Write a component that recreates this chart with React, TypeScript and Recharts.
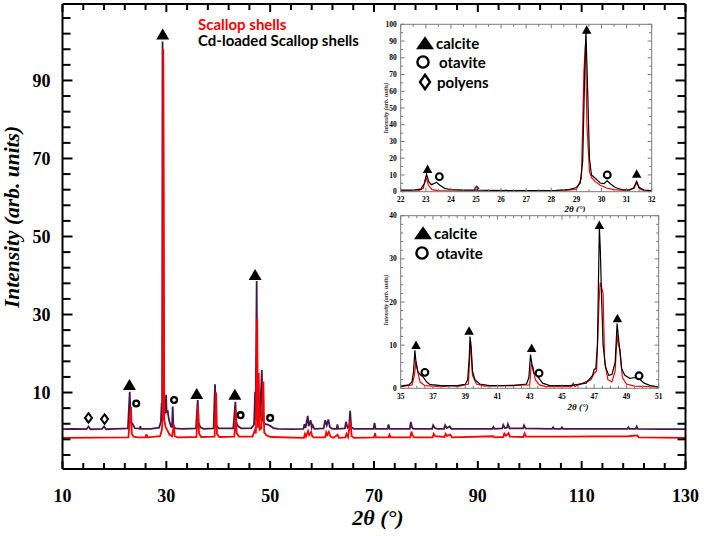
import { ComposedChart, LineChart, Line, Scatter, XAxis, YAxis, Label } from 'recharts';

// ---------------------------------------------------------------------------
// Data (2θ in degrees, intensity in arb. units)
// ---------------------------------------------------------------------------

const CD_LOADED: number[][] = [
  [10, 0.6], [12, 0.7], [14.6, 0.6], [15.0, 1.3], [15.4, 0.6], [17.6, 0.7], [18.0, 1.3], [18.4, 0.6],
  [20, 0.7], [22.6, 0.8], [22.95, 10.2], [23.15, 2.4], [23.5, 2.0], [23.9, 0.9], [24.9, 0.7], [25.0, 1.4],
  [25.1, 0.7], [27, 0.7], [28.6, 1.0], [28.95, 2.5], [29.1, 7.4], [29.18, 2.8], [29.27, 100], [29.4, 9],
  [29.6, 5.5], [29.85, 5], [29.95, 9.4], [30.05, 5], [30.27, 5.2], [30.5, 3], [30.9, 1.3], [31.1, 1.2],
  [31.23, 6.4], [31.35, 1.3], [31.8, 0.8], [33, 0.7], [35.7, 0.8], [36.05, 8.1], [36.2, 2.2], [36.6, 1.0],
  [37.2, 0.7], [39.1, 0.8], [39.38, 12.1], [39.55, 1.8], [40.1, 0.8], [42.9, 0.8], [43.3, 7.6], [43.45, 2.4],
  [43.8, 1.4], [44.4, 0.8], [46.4, 0.9], [46.9, 1.8], [47.1, 10.2], [47.2, 3], [47.4, 38.6], [47.55, 4],
  [47.75, 3], [47.85, 5.6], [48.0, 2.8], [48.4, 15.8], [48.55, 3], [48.9, 2], [49.5, 1.8], [50.0, 1.5],
  [50.6, 0.9], [51.5, 0.7], [54, 0.6], [56.4, 0.7], [56.6, 1.9], [56.8, 0.9], [57.24, 4.0], [57.4, 1.4],
  [57.8, 2.9], [58.0, 1.0], [58.2, 1.6], [58.5, 0.7], [60.3, 0.8], [60.6, 2.9], [60.9, 1.6], [61.2, 3.1],
  [61.5, 1.1], [62.0, 0.7], [62.8, 0.7], [62.95, 1.8], [63.1, 0.7], [64.4, 0.8], [64.6, 2.5], [64.9, 1.0],
  [65.2, 1.3], [65.4, 5.3], [65.6, 1.2], [66.1, 0.7], [69.9, 0.7], [70.1, 2.2], [70.3, 0.7], [72.6, 0.7],
  [72.8, 1.8], [73.0, 0.7], [76.9, 0.7], [77.1, 2.5], [77.3, 1.1], [77.6, 0.7], [81.2, 0.7], [81.4, 1.6],
  [81.7, 0.9], [82.2, 0.7], [83.5, 0.7], [83.7, 1.6], [84.0, 0.9], [84.6, 1.3], [84.9, 0.7], [92.8, 0.7],
  [93.0, 1.2], [93.2, 0.7], [94.7, 0.8], [94.9, 1.7], [95.2, 0.9], [95.6, 1.0], [95.8, 1.9], [96.1, 0.8],
  [98.7, 0.8], [98.9, 1.6], [99.2, 0.8], [104.3, 0.7], [104.5, 1.1], [104.7, 0.7], [106.0, 0.7], [106.2, 1.1],
  [106.4, 0.7], [118.8, 0.7], [119.0, 1.1], [119.2, 0.7], [120.4, 0.7], [120.6, 1.3], [120.8, 0.7], [125, 0.6],
  [130, 0.6],
];

const SCALLOP: number[][] = [
  [10, -1.6], [22.7, -1.5], [23.2, 6.4], [23.35, -0.6], [23.7, -1.3], [24.5, -1.5], [26.05, -1.5], [26.1, -0.9],
  [26.3, -1.0], [26.4, -1.5], [28.8, -1.2], [29.15, 0.5], [29.3, 4], [29.42, 98], [29.52, 60], [29.6, 3],
  [29.85, 1.2], [30.2, 0.3], [30.6, -0.8], [31.1, -1.2], [31.48, 1.7], [31.6, -1.2], [32.2, -1.5], [35.8, -1.4],
  [36.1, 6.4], [36.3, -0.5], [36.7, -1.4], [39.3, -1.3], [39.6, 10], [39.75, -0.6], [40.2, -1.4], [43.1, -1.3],
  [43.4, 5.5], [43.55, -0.4], [44, -1.3], [46.6, -1.3], [47.1, 0.5], [47.25, -0.5], [47.5, 29], [47.65, 1],
  [47.8, 15], [47.95, 0.5], [48.3, 0.8], [48.7, 12.8], [48.85, -0.2], [49.3, -1.0], [50.2, -1.4], [56.5, -1.6],
  [56.7, -0.6], [56.9, -1.3], [57.3, 0.1], [57.5, -0.9], [57.9, -0.1], [58.1, -1.2], [58.4, -1.5], [60.6, -1.5],
  [60.8, -0.2], [61.0, -0.9], [61.3, -0.1], [61.6, -1.3], [62.2, -1.6], [63.0, -0.8], [63.2, -1.6], [64.5, -1.5],
  [64.7, -0.6], [65.0, -1.4], [65.45, 2.9], [65.7, -1.2], [66.2, -1.6], [70.0, -1.5], [70.2, -0.4], [70.4, -1.5],
  [72.8, -1.5], [73.0, -0.8], [73.2, -1.5], [77.0, -1.5], [77.2, 0.0], [77.4, -0.9], [77.7, -1.5], [81.3, -1.5],
  [81.5, -0.6], [81.8, -1.2], [83.6, -1.4], [83.8, -0.6], [84.1, -1.1], [84.7, -0.8], [85, -1.5], [93.0, -1.2],
  [93.2, -1.5], [94.9, -1.4], [95.1, -0.5], [95.4, -1.1], [95.9, -0.4], [96.2, -1.3], [98.8, -1.4], [99.0, -0.5],
  [99.3, -1.3], [104.6, -1.3], [106.2, -1.3], [119.1, -1.2], [120.7, -1.0], [121, -1.5], [130, -1.6],
];

const MAIN_CALCITE: number[][] = [[22.9, 11.9], [29.3, 101.8], [35.85, 9.6], [43.2, 9.4], [47.1, 40.1]];
const MAIN_OTAVITE: number[][] = [[24.2, 7.2], [31.5, 8.1], [44.3, 4.2], [50.0, 3.5]];
const MAIN_POLYENS: number[][] = [[15.0, 3.5], [18.1, 3.2]];

const MAIN_X_LABELS = [10, 30, 50, 70, 90, 110, 130];
const MAIN_Y_LABELS = [10, 30, 50, 70, 90];

// inset 1: 22-32°
const INSET1_CD: number[][] = [
  [22, 1.0], [22.5, 1.0], [22.8, 1.5], [22.95, 5], [23.03, 10.5], [23.12, 6], [23.22, 4.2], [23.32, 4.8],
  [23.42, 5.6], [23.55, 4], [23.75, 2], [24.0, 1.3], [24.5, 1.0], [24.95, 1.0], [25.0, 1.8], [25.05, 1.0],
  [25.5, 0.8], [26.5, 0.6], [27.5, 0.6], [28.2, 0.8], [28.7, 1.3], [29.0, 2.5], [29.15, 5], [29.25, 18],
  [29.33, 70], [29.38, 96], [29.45, 60], [29.52, 20], [29.6, 10], [29.75, 8], [29.95, 5.2], [30.1, 4.8],
  [30.22, 6.5], [30.35, 4.8], [30.55, 2.5], [30.8, 1.3], [31.1, 1.0], [31.28, 2.2], [31.4, 6.2], [31.5, 2.5],
  [31.7, 1.0], [32, 0.7],
];
const INSET1_SCALLOP: number[][] = [
  [22, 0.4], [22.7, 0.5], [22.9, 2], [23.0, 9], [23.1, 4], [23.25, 1.2], [23.5, 0.6], [24.5, 0.4],
  [26.1, 0.4], [26.2, 1.0], [26.3, 0.4], [27, 0.3], [28.5, 0.6], [29.0, 1.5], [29.2, 8], [29.3, 72],
  [29.36, 88], [29.42, 40], [29.52, 12], [29.6, 8.5], [29.75, 6], [29.95, 3.8], [30.2, 2.2], [30.5, 1.2],
  [31.0, 0.6], [31.3, 2], [31.4, 5.5], [31.5, 2], [31.7, 0.5], [32, 0.3],
];
const INSET1_CALCITE: number[][] = [[23.07, 13.4], [29.41, 96.6], [31.4, 10.6]];
const INSET1_OTAVITE: number[][] = [[23.54, 9], [30.23, 10]];
const INSET1_POLYENS: number[][] = [[25.03, 2]];
const INSET1_X_LABELS = [22, 23, 24, 25, 26, 27, 28, 29, 30, 31, 32];
const INSET1_Y_LABELS = [0, 10, 20, 30, 40, 50, 60, 70, 80, 90, 100];

// inset 2: 35-51°
const INSET2_CD: number[][] = [
  [35, 0.5], [35.5, 0.8], [35.7, 1.5], [35.8, 4], [35.88, 8.8], [35.95, 6], [36.05, 4], [36.2, 3.2],
  [36.4, 2.6], [36.6, 1.5], [36.8, 0.9], [37.5, 0.6], [38.5, 0.6], [39.0, 0.9], [39.15, 2], [39.25, 7],
  [39.3, 12], [39.38, 9], [39.45, 4], [39.6, 2], [39.9, 1], [40.5, 0.6], [42.0, 0.6], [42.8, 1],
  [42.95, 2.5], [43.05, 7.8], [43.12, 6], [43.25, 3.5], [43.45, 3], [43.6, 2.2], [43.8, 1.2], [44.2, 0.7],
  [45.5, 0.6], [46.5, 1.2], [46.9, 3], [47.0, 4.4], [47.1, 4.5], [47.2, 10], [47.32, 37.5], [47.38, 32],
  [47.45, 22], [47.55, 10], [47.7, 5], [47.9, 3], [48.1, 3.2], [48.3, 6], [48.42, 15], [48.5, 12],
  [48.58, 9], [48.7, 4.5], [48.9, 3], [49.2, 2.3], [49.5, 2.5], [49.8, 2.2], [50.1, 1.2], [50.5, 0.6],
  [51, 0.3],
];
const INSET2_SCALLOP: number[][] = [
  [35, 0.4], [35.7, 0.8], [35.85, 3], [35.95, 6.3], [36.05, 4], [36.2, 1.5], [36.5, 0.6], [37.5, 0.4],
  [38.3, 0.6], [38.5, 0.4], [39.2, 1], [39.33, 11], [39.45, 3], [39.7, 1], [40.2, 0.5], [43.0, 0.8],
  [43.1, 5.5], [43.2, 5], [43.35, 2], [43.6, 0.8], [44.0, 0.4], [45.6, 0.4], [45.7, 1.2], [45.8, 0.4],
  [46.8, 2], [47.0, 3.5], [47.15, 4], [47.3, 20], [47.37, 24.5], [47.45, 23.5], [47.55, 22], [47.65, 6],
  [47.85, 2], [48.1, 1.5], [48.3, 4], [48.42, 12.5], [48.5, 10], [48.6, 9], [48.75, 2.5], [49.0, 1],
  [49.5, 0.5], [51, 0.3],
];
const INSET2_CALCITE: number[][] = [[35.95, 10], [39.24, 13.3], [43.12, 9.3], [47.32, 37.8], [48.44, 16.2]];
const INSET2_OTAVITE: number[][] = [[36.5, 3.7], [43.58, 3.5], [49.78, 2.9]];
const INSET2_X_LABELS = [35, 37, 39, 41, 43, 45, 47, 49, 51];
const INSET2_Y_LABELS = [0, 10, 20, 30, 40];

// ---------------------------------------------------------------------------
// Styles / helpers
// ---------------------------------------------------------------------------

const SERIF = "'Liberation Serif', 'Times New Roman', serif";
const SANS = "Lato, 'Noto Sans', sans-serif";
const PURPLE = '#48184c';
const RED = '#ff0000';

const toPts = (arr: number[][]) => arr.map(([x, y]) => ({ x, y }));

// evenly spaced tick marks (marks only, labels come from the *_LABELS arrays)
function tickMarks(from: number, to: number, step: number): number[] {
  const out: number[] = [];
  for (let v = from; v <= to + 1e-9; v += step) out.push(Math.round(v * 1000) / 1000);
  return out;
}

const isLabelled = (labels: number[], v: number) => labels.some((l) => Math.abs(l - v) < 1e-6);

// axis tick: inward mark plus label on the labelled values
function FrameTick(props: any) {
  const { payload, side, labels = [], major = 8, minor = 5, tickColor = '#000', tickWidth = 2, size, offset } = props;
  const x = Number(props.x);
  const y = Number(props.y);
  const v = Number(payload.value);
  const labelled = isLabelled(labels, v);
  const l = Number(labelled ? major : minor);
  const dx = side === 'left' ? l : side === 'right' ? -l : 0;
  const dy = side === 'bottom' ? -l : side === 'top' ? l : 0;
  return (
    <g>
      <path d={`M${x},${y}L${x + dx},${y + dy}`} stroke={tickColor} strokeWidth={tickWidth} fill="none" />
      {labelled && size && side === 'bottom' && (
        <text x={x} y={y + offset} textAnchor="middle" fontFamily={SERIF} fontWeight={700} fontSize={size} fill="#000">
          {v}
        </text>
      )}
      {labelled && size && side === 'left' && (
        <text x={x - offset} y={y} dy="0.35em" textAnchor="end" fontFamily={SERIF} fontWeight={700} fontSize={size} fill="#000">
          {v}
        </text>
      )}
    </g>
  );
}

function Tri({ cx, cy, w, h, fill = '#000' }: any) {
  return <polygon points={`${cx},${cy - h * 0.55} ${cx - w / 2},${cy + h * 0.45} ${cx + w / 2},${cy + h * 0.45}`} fill={fill} />;
}
function Ring({ cx, cy, r, sw }: any) {
  return <circle cx={cx} cy={cy} r={r} fill="#fff" stroke="#000" strokeWidth={sw} />;
}
function Diamond({ cx, cy, w, h, sw, stroke = '#000' }: any) {
  return (
    <polygon
      points={`${cx},${cy - h / 2} ${cx + w / 2},${cy} ${cx},${cy + h / 2} ${cx - w / 2},${cy}`}
      fill="#fff"
      stroke={stroke}
      strokeWidth={sw}
    />
  );
}

// ---------------------------------------------------------------------------
// Main chart
// ---------------------------------------------------------------------------

const MAIN_XD: [number, number] = [10, 130];
const MAIN_YD: [number, number] = [-9.6, 109.6];

function MainChart() {
  const xMarks = tickMarks(10, 130, 4);
  const yMarks = tickMarks(-6, 106, 4);
  const frame = { stroke: '#000', strokeWidth: 2 };
  const xt = { labels: MAIN_X_LABELS, major: 8, minor: 6, tickWidth: 2 };
  const yt = { labels: MAIN_Y_LABELS, major: 10, minor: 8, tickWidth: 2 };

  return (
    <ComposedChart width={704} height={536} margin={{ top: 3, right: 17.5, bottom: 7, left: 2.5 }}>
      <XAxis xAxisId="b" type="number" dataKey="x" domain={MAIN_XD} allowDataOverflow ticks={xMarks} interval={0}
        height={60} tickSize={0} tickMargin={0} tickLine={false} axisLine={frame}
        tick={<FrameTick side="bottom" {...xt} size={18} offset={33} />}>
        <Label
          content={() => (
            <text x={378} y={525} textAnchor="middle" fontFamily={SERIF} fontStyle="italic" fontWeight={700} fontSize={22} fill="#000">
              2θ (°)
            </text>
          )}
        />
      </XAxis>
      <XAxis xAxisId="t" orientation="top" type="number" dataKey="x" domain={MAIN_XD} allowDataOverflow ticks={xMarks}
        interval={0} height={1} tickSize={0} tickMargin={0} tickLine={false} axisLine={frame}
        tick={<FrameTick side="top" {...xt} />} />
      <YAxis yAxisId="l" type="number" dataKey="y" domain={MAIN_YD} allowDataOverflow ticks={yMarks} interval={0}
        width={60} tickSize={0} tickMargin={0} tickLine={false} axisLine={frame}
        tick={<FrameTick side="left" {...yt} size={18} offset={12} />}>
        <Label
          content={() => (
            <text x={19} y={217} transform="rotate(-90 19 217)" textAnchor="middle" fontFamily={SERIF}
              fontStyle="italic" fontWeight={700} fontSize={21.5} fill="#000">
              Intensity (arb. units)
            </text>
          )}
        />
      </YAxis>
      <YAxis yAxisId="r" orientation="right" type="number" dataKey="y" domain={MAIN_YD} allowDataOverflow ticks={yMarks}
        interval={0} width={1} tickSize={0} tickMargin={0} tickLine={false} axisLine={frame}
        tick={<FrameTick side="right" {...yt} />} />

      {/* invisible copy bound to the mirror axes so they get a domain */}
      <Line xAxisId="t" yAxisId="r" data={toPts(CD_LOADED)} dataKey="y" stroke="transparent" strokeWidth={0}
        dot={false} activeDot={false} isAnimationActive={false} />

      <Line xAxisId="b" yAxisId="l" data={toPts(CD_LOADED)} dataKey="y" type="linear" stroke={PURPLE} strokeWidth={1.8}
        dot={false} activeDot={false} isAnimationActive={false} />
      <Line xAxisId="b" yAxisId="l" data={toPts(SCALLOP)} dataKey="y" type="linear" stroke={RED} strokeWidth={1.8}
        dot={false} activeDot={false} isAnimationActive={false} />

      <Scatter xAxisId="b" yAxisId="l" data={toPts(MAIN_CALCITE)} dataKey="y" isAnimationActive={false}
        shape={(p: any) => <Tri cx={p.cx} cy={p.cy} w={13} h={11} />} />
      <Scatter xAxisId="b" yAxisId="l" data={toPts(MAIN_OTAVITE)} dataKey="y" isAnimationActive={false}
        shape={(p: any) => <Ring cx={p.cx} cy={p.cy} r={2.9} sw={2.3} />} />
      <Scatter xAxisId="b" yAxisId="l" data={toPts(MAIN_POLYENS)} dataKey="y" isAnimationActive={false}
        shape={(p: any) => <Diamond cx={p.cx} cy={p.cy} w={7} h={9.5} sw={2} />} />
    </ComposedChart>
  );
}

// ---------------------------------------------------------------------------
// Insets
// ---------------------------------------------------------------------------

interface InsetProps {
  left: number;
  top: number;
  width: number;
  height: number;
  margin: { top: number; right: number; bottom: number; left: number };
  xDomain: [number, number];
  yDomain: [number, number];
  xMarks: number[];
  yMarks: number[];
  xLabels: number[];
  yLabels: number[];
  cd: number[][];
  scallop: number[][];
  calcite: number[][];
  otavite: number[][];
  polyens?: number[][];
  yTitleY: number;
  xTitle: { x: number; y: number };
  xLabelOffset: number;
}

function Inset(p: InsetProps) {
  const gray = '#7a7a7a';
  const frame = { stroke: gray, strokeWidth: 1 };
  const xt = { labels: p.xLabels, major: 4, minor: 2.5, tickColor: gray, tickWidth: 1 };
  const yt = { labels: p.yLabels, major: 4, minor: 2.5, tickColor: gray, tickWidth: 1 };
  return (
    <div style={{ position: 'absolute', left: p.left, top: p.top, width: p.width, height: p.height, background: '#fff' }}>
      <LineChart width={p.width} height={p.height} margin={p.margin}>
        <XAxis xAxisId="b" type="number" dataKey="x" domain={p.xDomain} allowDataOverflow ticks={p.xMarks} interval={0}
          height={1} tickSize={0} tickMargin={0} tickLine={false} axisLine={frame}
          tick={<FrameTick side="bottom" {...xt} size={7.5} offset={p.xLabelOffset} />}>
          <Label
            content={() => (
              <text x={p.xTitle.x} y={p.xTitle.y} textAnchor="middle" fontFamily={SERIF} fontStyle="italic" fontWeight={700} fontSize={9} fill="#000">
                2θ (°)
              </text>
            )}
          />
        </XAxis>
        <XAxis xAxisId="t" orientation="top" type="number" dataKey="x" domain={p.xDomain} allowDataOverflow ticks={p.xMarks}
          interval={0} height={1} tickSize={0} tickMargin={0} tickLine={false} axisLine={frame} tick={<FrameTick side="top" {...xt} />} />
        <YAxis yAxisId="l" type="number" dataKey="y" domain={p.yDomain} allowDataOverflow ticks={p.yMarks} interval={0}
          width={1} tickSize={0} tickMargin={0} tickLine={false} axisLine={frame}
          tick={<FrameTick side="left" {...yt} size={7.5} offset={4} />}>
          <Label
            content={() => (
              <text x={8} y={p.yTitleY} transform={`rotate(-90 8 ${p.yTitleY})`} textAnchor="middle" fontFamily={SERIF}
                fontStyle="italic" fontWeight={700} fontSize={6} fill="#333">
                Intensity (arb. units)
              </text>
            )}
          />
        </YAxis>
        <YAxis yAxisId="r" orientation="right" type="number" dataKey="y" domain={p.yDomain} allowDataOverflow ticks={p.yMarks}
          interval={0} width={1} tickSize={0} tickMargin={0} tickLine={false} axisLine={frame} tick={<FrameTick side="right" {...yt} />} />

        <Line xAxisId="t" yAxisId="r" data={toPts(p.cd)} dataKey="y" stroke="transparent" strokeWidth={0}
          dot={false} activeDot={false} isAnimationActive={false} />

        <Line xAxisId="b" yAxisId="l" data={toPts(p.scallop)} dataKey="y" type="linear" stroke={RED} strokeWidth={1.2}
          dot={false} activeDot={false} isAnimationActive={false} />
        <Line xAxisId="b" yAxisId="l" data={toPts(p.cd)} dataKey="y" type="linear" stroke="#000" strokeWidth={1.2}
          dot={false} activeDot={false} isAnimationActive={false} />

        <Scatter xAxisId="b" yAxisId="l" data={toPts(p.calcite)} dataKey="y" isAnimationActive={false}
          shape={(s: any) => <Tri cx={s.cx} cy={s.cy} w={9.5} h={8.5} />} />
        <Scatter xAxisId="b" yAxisId="l" data={toPts(p.otavite)} dataKey="y" isAnimationActive={false}
          shape={(s: any) => <Ring cx={s.cx} cy={s.cy} r={3.4} sw={2.1} />} />
        {p.polyens && (
          <Scatter xAxisId="b" yAxisId="l" data={toPts(p.polyens)} dataKey="y" isAnimationActive={false}
            shape={(s: any) => <Diamond cx={s.cx} cy={s.cy} w={3.5} h={4} sw={1.5} stroke={PURPLE} />} />
        )}
      </LineChart>
    </div>
  );
}

function LegendRow({ x, y, symbol, text, textX }: any) {
  return (
    <>
      <svg style={{ position: 'absolute', left: x - 10, top: y - 10 }} width={20} height={20}>
        {symbol === 'tri' && <Tri cx={10} cy={10.5} w={18} h={13} />}
        {symbol === 'ring' && <Ring cx={10} cy={10} r={5.6} sw={2.4} />}
        {symbol === 'diamond' && <Diamond cx={10} cy={10} w={10} h={14.5} sw={2.4} />}
      </svg>
      <div
        style={{
          position: 'absolute',
          left: textX,
          top: y - 10,
          lineHeight: '20px',
          fontFamily: SANS,
          fontWeight: 700,
          fontSize: 15,
          color: '#000',
          whiteSpace: 'nowrap',
        }}
      >
        {text}
      </div>
    </>
  );
}

export default function App() {
  return (
    <div style={{ position: 'absolute', left: 0, top: 0, width: 704, height: 536, background: '#fff', overflow: 'hidden' }}>
      <MainChart />

      <div style={{ position: 'absolute', left: 198, top: 16, fontFamily: SANS, fontWeight: 700, fontSize: 15, lineHeight: '16px', whiteSpace: 'nowrap' }}>
        <div style={{ color: RED }}>Scallop shells</div>
        <div style={{ color: '#000' }}>Cd-loaded Scallop shells</div>
      </div>

      <Inset
        left={380}
        top={14}
        width={284}
        height={200}
        margin={{ top: 9.3, right: 11.3, bottom: 21.3, left: 19.7 }}
        xDomain={[22, 32]}
        yDomain={[0, 100]}
        xMarks={tickMarks(22, 32, 0.5)}
        yMarks={tickMarks(0, 100, 5)}
        xLabels={INSET1_X_LABELS}
        yLabels={INSET1_Y_LABELS}
        cd={INSET1_CD}
        scallop={INSET1_SCALLOP}
        calcite={INSET1_CALCITE}
        otavite={INSET1_OTAVITE}
        polyens={INSET1_POLYENS}
        yTitleY={94}
        xTitle={{ x: 195, y: 198 }}
        xLabelOffset={10}
      />
      <Inset
        left={380}
        top={212}
        width={290}
        height={200}
        margin={{ top: 2.7, right: 10.3, bottom: 22.7, left: 19.7 }}
        xDomain={[35, 51]}
        yDomain={[0, 40]}
        xMarks={tickMarks(35, 51, 0.5)}
        yMarks={tickMarks(0, 40, 2)}
        xLabels={INSET2_X_LABELS}
        yLabels={INSET2_Y_LABELS}
        cd={INSET2_CD}
        scallop={INSET2_SCALLOP}
        calcite={INSET2_CALCITE}
        otavite={INSET2_OTAVITE}
        yTitleY={88}
        xTitle={{ x: 198, y: 197.5 }}
        xLabelOffset={10.5}
      />

      <LegendRow x={425} y={43} symbol="tri" text="calcite" textX={436} />
      <LegendRow x={423} y={62} symbol="ring" text="otavite" textX={439} />
      <LegendRow x={425} y={81.5} symbol="diamond" text="polyens" textX={437} />

      <LegendRow x={423} y={233.3} symbol="tri" text="calcite" textX={434} />
      <LegendRow x={422} y={252.5} symbol="ring" text="otavite" textX={436} />
    </div>
  );
}
